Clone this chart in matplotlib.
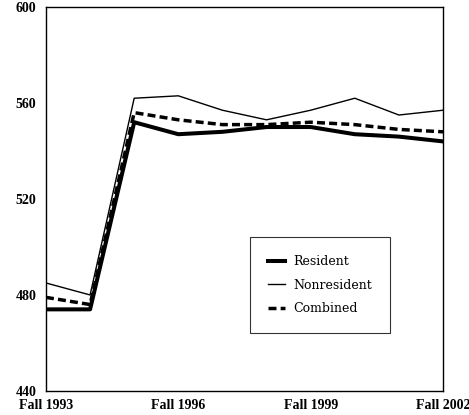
import matplotlib.pyplot as plt

terms = ["Fall 1993", "Fall 1994", "Fall 1995", "Fall 1996", "Fall 1997",
         "Fall 1998", "Fall 1999", "Fall 2000", "Fall 2001", "Fall 2002"]
resident = [474, 474, 552, 547, 548, 550, 550, 547, 546, 544]
nonresident = [485, 480, 562, 563, 557, 553, 557, 562, 555, 557]
combined = [479, 476, 556, 553, 551, 551, 552, 551, 549, 548]
shown_ticks = ["Fall 1993", "Fall 1996", "Fall 1999", "Fall 2002"]
y_ticks = [440, 480, 520, 560, 600]

plt.rcParams['font.family'] = ['Liberation Serif', 'DejaVu Serif']

fig = plt.figure(figsize=(4.69, 4.15), dpi=100)
ax = fig.add_axes([0.098, 0.058, 0.8466, 0.925])

x = list(range(len(terms)))
ax.plot(x, resident, color='black', lw=2.9, label='Resident')
ax.plot(x, nonresident, color='black', lw=1.0, label='Nonresident')
ax.plot(x, combined, color='black', lw=2.5, ls=(0, (2.3, 1.2)), label='Combined')

ax.set_xlim(0, len(terms) - 1)
ax.set_ylim(440, 600)
ax.set_yticks(y_ticks)
ax.set_yticklabels([str(v) for v in y_ticks], fontweight='bold', fontsize=10)
ax.set_xticks([terms.index(t) for t in shown_ticks])
ax.set_xticklabels(shown_ticks, fontweight='bold', fontsize=10)
ax.tick_params(axis='y', length=0, pad=7)
ax.tick_params(axis='x', length=0, pad=5.5)
for s in ax.spines.values():
    s.set_linewidth(1.0)

leg = ax.legend(loc='upper left', bbox_to_anchor=(0.514, 0.401),
                prop={'family': 'DejaVu Serif', 'size': 9},
                frameon=True, fancybox=False, edgecolor='black', handlelength=1.36,
                handletextpad=0.64, labelspacing=0.85, borderpad=1.45, borderaxespad=0)
leg.get_frame().set_linewidth(0.8)

fig.savefig('out.png', dpi=100)
